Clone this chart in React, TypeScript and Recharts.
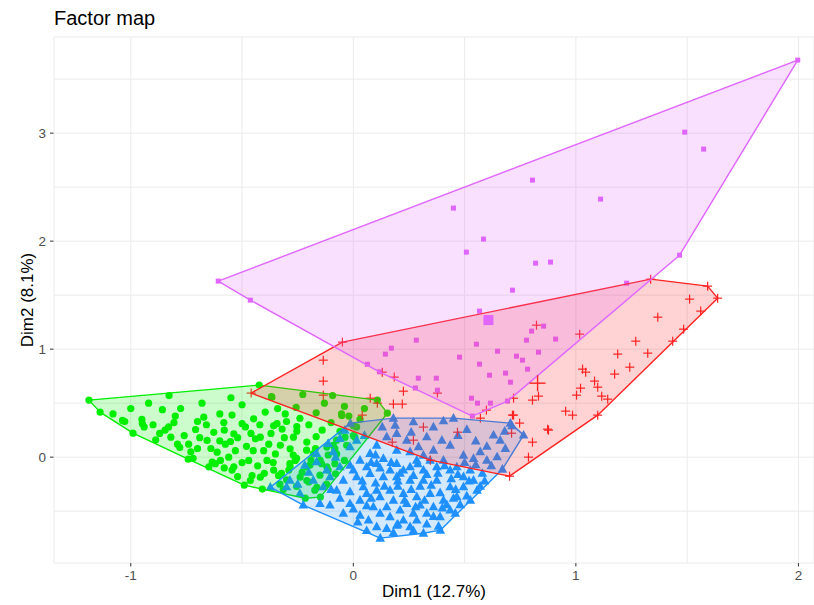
import React from 'react'
import { ScatterChart, Scatter, XAxis, YAxis, CartesianGrid } from 'recharts'

const xTicks = [-1, -0.5, 0, 0.5, 1, 1.5, 2]
const yTicks = [-0.5, 0, 0.5, 1, 1.5, 2, 2.5, 3, 3.5]

const GREEN = '#00EE00'
const BLUE = '#1E90FF'
const RED = '#FF2222'
const PINK = '#E066FF'

type P = [number, number]

const greenPts: P[] = [
  [-1.188, 0.528], [-0.423, 0.667], [0.108, 0.528], [0.153, 0.407], [-0.148, -0.37], [-0.216, -0.38],
  [-0.409, -0.296], [-0.49, -0.259], [-0.742, -0.019], [-0.99, 0.222], [-1.138, 0.417],
  [-1.037, 0.34], [-1.027, 0.33], [-0.828, 0.57], [-0.858, 0.44], [-0.776, 0.45], [-0.806, 0.32],
  [-0.948, 0.31], [-0.94, 0.28], [-0.888, 0.16], [-0.846, 0.25], [-0.82, 0.185], [-0.79, 0.12],
  [-0.78, 0.09], [-0.74, 0.12], [-0.709, 0.256], [-0.672, 0.37], [-0.7, 0.08], [-0.657, 0.155],
  [-0.627, 0.23], [-0.612, 0.046], [-0.582, 0.32], [-0.545, 0.39], [-0.5, 0.485], [-0.575, 0.12],
  [-0.552, 0.145], [-0.537, 0.216], [-0.53, 0.06], [-0.5, 0.31], [-0.485, 0.28], [-0.448, 0.355],
  [-0.44, 0.17], [-0.45, 0.06], [-0.47, -0.03], [-0.537, -0.09], [-0.545, -0.12], [-0.597, -0.03],
  [-0.634, -0.046], [-0.649, -0.09], [-0.72, -0.01], [-0.396, 0.417], [-0.418, 0.185], [-0.403, 0.06],
  [-0.388, -0.03], [-0.418, -0.185], [-0.455, -0.17], [-0.358, 0.29], [-0.343, 0.31], [-0.32, 0.26],
  [-0.328, 0.11], [-0.306, 0.4], [-0.35, 0.03], [-0.284, 0.077], [-0.269, 0.185], [-0.254, 0.284],
  [-0.254, 0.24], [-0.261, -0.03], [-0.284, -0.09], [-0.209, 0.14], [-0.167, 0.19], [-0.358, -0.12],
  [-0.336, -0.17], [-0.366, 0.555], [-0.227, 0.58], [-0.093, 0.57], [-0.257, 0.46], [-0.167, 0.41],
  [-0.052, 0.386], [-0.04, 0.47], [-0.18, 0.03], [-0.149, -0.03], [-0.119, 0.093], [-0.09, 0.11],
  [-0.075, 0.03], [-0.119, -0.09], [-0.209, -0.09], [-0.239, -0.185], [-0.209, -0.216], [-0.164, -0.28],
  [-0.12, -0.25], [-0.037, 0.185], [0.007, 0.185], [0.0, 0.29], [-0.04, -0.03], [-0.08, -0.154],
  [-0.463, -0.216], [-0.368, 0.56], [-0.053, 0.4], [0.03, 0.35], [0.015, 0.28], [0.0, 0.2],
  [-0.083, 0.08], [-0.113, 0.02], [-0.143, -0.06], [-0.113, -0.12], [-0.15, -0.167], [-0.2, -0.23],
  [-0.255, -0.27], [-0.173, -0.306], [-0.195, -0.074], [-0.21, 0.065], [-0.255, -0.012], [-0.285, -0.06],
  [-0.323, -0.15], [-0.3, -0.21], [-0.315, -0.3], [-0.075, 0.157], [-0.03, 0.11], [-0.083, -0.06],
  [-0.95, 0.35], [-0.9, 0.3], [-0.87, 0.22], [-0.83, 0.28], [-0.76, 0.2], [-0.73, 0.05],
  [-0.69, 0.18], [-0.66, 0.3], [-0.64, 0.08], [-0.6, 0.15], [-0.58, 0.25], [-0.56, 0.0],
  [-0.52, 0.18], [-0.5, -0.05], [-0.48, 0.1], [-0.46, 0.22], [-0.43, -0.08], [-0.42, 0.3],
  [-0.4, -0.15], [-0.38, 0.12], [-0.37, 0.22], [-0.36, -0.05], [-0.34, 0.45], [-0.33, -0.25],
  [-0.31, 0.18], [-0.3, 0.33], [-0.29, -0.12], [-0.27, 0.02], [-0.24, 0.36], [-0.23, -0.14],
  [-0.2, 0.3], [-0.19, -0.03], [-0.17, 0.08], [-0.14, 0.25], [-0.13, 0.5], [-0.1, 0.32],
  [-0.06, 0.24], [-0.02, 0.38], [0.05, 0.45], [-0.6, 0.4], [-0.7, 0.33], [-0.8, 0.38],
  [-1.08, 0.4], [-1.0, 0.45], [-0.92, 0.5], [-0.68, 0.5], [-0.55, 0.55], [-0.62, -0.06],
  [-0.58, -0.1], [-0.52, -0.18],
]

const bluePts: P[] = [
  [-0.373, -0.278], [-0.013, 0.315], [0.18, 0.361], [0.45, 0.361], [0.706, 0.315], [0.765, 0.204],
  [0.67, -0.111], [0.526, -0.398], [0.391, -0.676], [0.315, -0.704], [0.121, -0.75], [-0.225, -0.444],
  [0.188, 0.296], [0.27, 0.327], [0.405, 0.336], [0.51, 0.256], [0.63, 0.204], [0.713, 0.29],
  [0.683, 0.08], [0.646, 0.003], [0.6, -0.028], [0.54, -0.012], [0.495, 0.018], [0.435, 0.11],
  [0.398, 0.157], [0.36, 0.065], [0.33, 0.188], [0.293, 0.096], [0.24, 0.157], [0.195, 0.22],
  [0.15, 0.188], [0.105, 0.11], [0.315, 0.018], [0.255, 0.05], [0.57, 0.05], [0.66, 0.157],
  [-0.285, -0.213], [-0.218, -0.074], [-0.165, -0.043], [-0.113, 0.127], [-0.06, 0.173], [-0.038, 0.25],
  [-0.15, -0.43], [-0.105, -0.444], [-0.045, -0.52], [0.03, -0.537], [0.068, -0.583], [0.105, -0.645],
  [0.18, -0.7], [0.195, -0.63], [0.255, -0.645], [0.383, -0.64], [0.458, -0.52], [0.51, -0.36],
  [0.57, -0.27], [0.59, -0.22], [0.54, -0.213], [0.495, -0.182], [0.435, -0.12], [0.375, -0.09],
  [0.315, -0.12], [0.255, -0.09], [0.195, -0.059], [0.135, -0.012], [0.075, 0.034], [0.03, -0.028],
  [-0.015, -0.074], [-0.06, -0.09], [-0.105, -0.182], [-0.045, -0.213], [0.015, -0.182], [0.075, -0.151],
  [0.135, -0.182], [0.195, -0.182], [0.255, -0.213], [0.315, -0.213], [0.375, -0.213], [0.435, -0.275],
  [0.495, -0.275], [0.465, -0.367], [0.405, -0.398], [0.345, -0.336], [0.285, -0.367], [0.225, -0.336],
  [0.165, -0.306], [0.105, -0.306], [0.045, -0.275], [-0.015, -0.32], [-0.075, -0.306], [-0.135, -0.275],
  [-0.18, -0.213], [0.03, -0.398], [0.09, -0.46], [0.15, -0.46], [0.21, -0.49], [0.27, -0.52],
  [0.33, -0.52], [0.39, -0.552], [0.435, -0.49], [0.36, -0.46], [0.3, -0.444], [0.24, -0.43],
  [0.18, -0.398], [0.12, -0.367], [0.06, -0.336], [-0.015, -0.43], [0.165, -0.552], [0.225, -0.583],
  [0.285, -0.583], [0.06, -0.09], [0.165, -0.12], [0.225, -0.12], [0.285, -0.028], [0.345, -0.028],
  [0.405, -0.028], [0.465, -0.09], [0.525, -0.12], [0.556, -0.306], [-0.24, -0.336], [-0.3, -0.275],
  [-0.165, 0.034], [-0.09, 0.05], [-0.015, 0.096], [0.015, 0.157], [0.105, -0.059], [0.195, 0.065],
  [0.0, -0.12], [0.04, -0.22], [0.08, -0.05], [0.1, -0.24], [0.12, -0.1], [0.14, -0.27],
  [0.17, -0.05], [0.2, -0.27], [0.21, -0.15], [0.23, -0.4], [0.26, -0.3], [0.27, -0.17],
  [0.29, -0.06], [0.3, -0.27], [0.32, -0.4], [0.33, -0.16], [0.35, -0.26], [0.36, -0.55],
  [0.38, -0.15], [0.39, -0.33], [0.41, -0.08], [0.42, -0.44], [0.44, -0.2], [0.45, -0.38],
  [0.47, -0.16], [0.48, -0.44], [0.5, -0.05], [0.52, -0.22], [0.55, -0.07], [0.58, -0.15],
  [0.6, 0.1], [0.62, -0.08], [0.12, -0.52], [0.06, -0.45], [0.0, -0.48], [-0.06, -0.38],
  [-0.1, -0.3], [-0.12, -0.12], [-0.2, -0.14], [-0.25, -0.25], [-0.08, 0.0], [0.05, 0.2],
  [0.13, 0.28], [0.26, 0.23], [0.36, 0.28], [0.47, 0.2], [0.55, 0.15], [0.68, 0.24],
  [0.2, -0.62], [0.27, -0.68], [0.33, -0.62], [0.15, -0.66], [0.06, -0.68], [0.02, -0.6],
  [0.4, -0.47], [0.46, -0.3], [0.08, -0.38], [0.2, -0.22], [0.28, -0.46], [0.1, 0.02],
]

const redPts: P[] = [
  [-0.459, 0.593], [-0.049, 1.065], [-0.135, 0.898], [-0.135, 0.704], [-0.135, 0.574], [0.13, 0.787],
  [0.184, 0.741], [0.225, 0.611], [0.076, 0.546], [0.108, 0.5], [0.18, 0.491], [0.22, 0.491],
  [0.04, 0.389], [0.378, 0.593], [0.571, 0.361], [0.598, 0.435], [0.72, 0.546], [0.805, 0.528],
  [0.832, 0.565], [0.823, 1.222], [0.715, 0.389], [0.877, 0.25], [1.336, 1.648], [1.592, 1.583],
  [1.637, 1.472], [1.511, 1.463], [1.561, 1.352], [1.368, 1.296], [1.484, 1.185], [1.435, 1.074],
  [1.269, 1.074], [1.323, 0.963], [1.188, 0.954], [1.242, 0.833], [1.174, 0.769], [1.017, 1.139],
  [1.03, 0.815], [1.044, 0.787], [1.084, 0.704], [1.098, 0.648], [1.021, 0.639], [1.003, 0.574],
  [1.116, 0.565], [1.143, 0.537], [1.098, 0.389], [0.954, 0.426], [0.985, 0.389], [0.72, 0.389],
  [0.711, 0.222], [0.315, 0.278], [0.27, 0.157], [0.175, 0.139], [0.468, 0.231], [0.747, 0.315],
  [0.805, 0.139], [0.787, 0.0], [0.873, 0.259], [0.702, -0.176], [0.346, -0.028],
]

const pinkPts: P[] = [
  [-0.607, 1.63], [-0.463, 1.454], [1.997, 3.676], [1.489, 3.009], [1.574, 2.852], [0.805, 2.565],
  [1.111, 2.389], [0.45, 2.306], [0.585, 2.019], [0.508, 1.898], [0.819, 1.796], [0.886, 1.806],
  [1.466, 1.87], [1.228, 1.611], [0.715, 1.546], [0.567, 1.352], [0.283, 1.083], [0.171, 1.009],
  [0.144, 0.954], [0.063, 0.86], [0.117, 0.79], [0.292, 0.731], [0.373, 0.731], [0.378, 0.62],
  [0.279, 0.64], [0.477, 0.926], [0.553, 1.046], [0.567, 0.861], [0.648, 0.981], [0.612, 0.759],
  [0.684, 0.778], [0.706, 0.694], [0.733, 0.935], [0.76, 0.898], [0.778, 1.083], [0.801, 1.167],
  [0.855, 1.213], [0.832, 0.972], [0.783, 0.815], [0.909, 1.093], [0.531, 0.546], [0.558, 0.5],
  [0.616, 0.5], [0.693, 0.519], [0.535, 0.38],
]

// cluster centres (drawn bigger)
const redCenter: P[] = [[0.828, 0.685]]
const pinkCenter: P[] = [[0.607, 1.269]]

const toObj = (a: P[]) => a.map(([x, y]) => ({ x, y }))

function convexHull(list: P[]): P[] {
  const p = [...list].sort((a, b) => a[0] - b[0] || a[1] - b[1])
  const cross = (o: P, a: P, b: P) => (a[0] - o[0]) * (b[1] - o[1]) - (a[1] - o[1]) * (b[0] - o[0])
  const lower: P[] = []
  for (const q of p) {
    while (lower.length >= 2 && cross(lower[lower.length - 2], lower[lower.length - 1], q) <= 0) lower.pop()
    lower.push(q)
  }
  const upper: P[] = []
  for (const q of [...p].reverse()) {
    while (upper.length >= 2 && cross(upper[upper.length - 2], upper[upper.length - 1], q) <= 0) upper.pop()
    upper.push(q)
  }
  return lower.slice(0, -1).concat(upper.slice(0, -1))
}

const hullLine = (color: string) => (props: any) => {
  const pts = props.points || []
  const d = pts.map((p: any, i: number) => `${i ? 'L' : 'M'}${p.x},${p.y}`).join(' ') + ' Z'
  return <path d={d} fill={color} fillOpacity={0.2} stroke={color} strokeWidth={1.4} strokeLinejoin="round" />
}

const noShape = () => <g />

const circle = (p: any) => <circle cx={p.cx} cy={p.cy} r={3.6} fill={GREEN} />
const triangle = (p: any) => (
  <path d={`M${p.cx},${p.cy - 5.2} L${p.cx + 4.8},${p.cy + 3.5} L${p.cx - 4.8},${p.cy + 3.5} Z`} fill={BLUE} />
)
const plus = (s: number, w: number) => (p: any) => (
  <g stroke={RED} strokeWidth={w}>
    <line x1={p.cx - s} x2={p.cx + s} y1={p.cy} y2={p.cy} />
    <line x1={p.cx} x2={p.cx} y1={p.cy - s} y2={p.cy + s} />
  </g>
)
const square = (s: number) => (p: any) => (
  <rect x={p.cx - s / 2} y={p.cy - s / 2} width={s} height={s} fill={PINK} />
)

const font = '"Liberation Sans", Arial, Helvetica, sans-serif'

const XTick = (props: any) => {
  const { x, y, payload } = props
  if (!Number.isInteger(payload.value)) return <g />
  return (
    <g>
      <line x1={x} x2={x} y1={y} y2={y + 3.5} stroke="#333" strokeWidth={1} />
      <text x={x} y={y + 17} textAnchor="middle" fontSize={13.5} fill="#4d4d4d" fontFamily={font}>
        {payload.value}
      </text>
    </g>
  )
}

const YTick = (props: any) => {
  const { x, y, payload } = props
  if (!Number.isInteger(payload.value)) return <g />
  return (
    <g>
      <line x1={x - 4} x2={x - 0.5} y1={y} y2={y} stroke="#333" strokeWidth={1} />
      <text x={x - 8} y={y + 4.8} textAnchor="end" fontSize={13.5} fill="#4d4d4d" fontFamily={font}>
        {payload.value}
      </text>
    </g>
  )
}

export default function App() {
  const W = 814
  const H = 605
  return (
    <div style={{ position: 'absolute', left: 0, top: 0, width: W, height: H, background: '#fff' }}>
      <ScatterChart width={W} height={H} margin={{ top: 37, right: 0, left: 0, bottom: 0 }}>
        <CartesianGrid stroke="#ebebeb" strokeWidth={1} />
        <XAxis
          type="number"
          dataKey="x"
          domain={[-1.345, 2.07]}
          ticks={xTicks}
          interval={0}
          allowDataOverflow
          axisLine={false}
          tickLine={false}
          tickSize={0}
          tickMargin={0}
          height={42}
          tick={<XTick />}
        />
        <YAxis
          type="number"
          dataKey="y"
          domain={[-0.98, 3.89]}
          ticks={yTicks}
          interval={0}
          allowDataOverflow
          axisLine={false}
          tickLine={false}
          tickSize={0}
          tickMargin={0}
          width={54}
          tick={<YTick />}
        />
        <Scatter data={toObj(greenPts)} shape={circle} isAnimationActive={false} />
        <Scatter data={toObj(bluePts)} shape={triangle} isAnimationActive={false} />
        <Scatter data={toObj(redPts)} shape={plus(4.5, 1.2)} isAnimationActive={false} />
        <Scatter data={toObj(pinkPts)} shape={square(5)} isAnimationActive={false} />

        <Scatter data={toObj(convexHull(greenPts))} shape={noShape} line={hullLine(GREEN)} isAnimationActive={false} />
        <Scatter data={toObj(convexHull(bluePts))} shape={noShape} line={hullLine(BLUE)} isAnimationActive={false} />
        <Scatter data={toObj(convexHull(redPts))} shape={noShape} line={hullLine(RED)} isAnimationActive={false} />
        <Scatter data={toObj(convexHull(pinkPts))} shape={noShape} line={hullLine(PINK)} isAnimationActive={false} />

        <Scatter data={toObj(redCenter)} shape={plus(8, 1.4)} isAnimationActive={false} />
        <Scatter data={toObj(pinkCenter)} shape={square(10)} isAnimationActive={false} />
      </ScatterChart>
      <svg width={W} height={H} style={{ position: 'absolute', left: 0, top: 0, pointerEvents: 'none' }}>
        <text x={54} y={25} fontSize={20} fill="#000" fontFamily={font}>Factor map</text>
        <text x={434} y={597} fontSize={17} fill="#000" textAnchor="middle" fontFamily={font}>Dim1 (12.7%)</text>
        <text
          transform="translate(33,300) rotate(-90)"
          fontSize={17}
          fill="#000"
          textAnchor="middle"
          fontFamily={font}
        >
          Dim2 (8.1%)
        </text>
      </svg>
    </div>
  )
}
